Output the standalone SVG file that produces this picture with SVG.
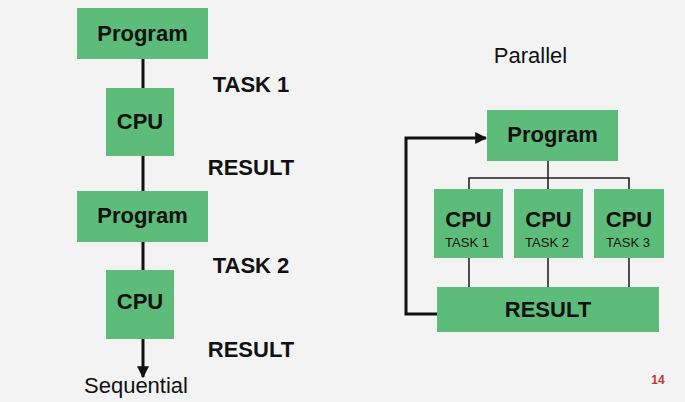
<svg xmlns="http://www.w3.org/2000/svg" width="685" height="402" viewBox="0 0 685 402">
<style>
.box{fill:#5dbc7a}
.b{font-family:"Liberation Sans",Arial,sans-serif;font-weight:bold;font-size:22px;fill:#111;text-anchor:middle}
.r{font-family:"Liberation Sans",Arial,sans-serif;font-size:22px;fill:#111;text-anchor:middle}
.s{font-family:"Liberation Sans",Arial,sans-serif;font-size:13px;fill:#111;text-anchor:middle}
.thick{stroke:#111;stroke-width:3;fill:none}
.thin{stroke:#222;stroke-width:1.6;fill:none}
</style>
<defs>
<marker id="ah" viewBox="0 0 10 10" refX="9" refY="5" markerWidth="4" markerHeight="4" orient="auto" markerUnits="strokeWidth">
<path d="M0,0 L10,5 L0,10 z" fill="#111"/>
</marker>
</defs>
<rect width="685" height="402" fill="#f3f3f3"/>
<g id="connectors">
<line class="thick" x1="143" y1="59" x2="143" y2="88"/>
<line class="thick" x1="143" y1="156" x2="143" y2="191"/>
<line class="thick" x1="143" y1="242" x2="143" y2="270"/>
<line class="thick" x1="143" y1="339" x2="143" y2="377" marker-end="url(#ah)"/>
<line class="thin" x1="548" y1="161" x2="548" y2="178"/>
<polyline class="thin" points="469,189 469,178 629,178 629,189"/>
<line class="thin" x1="548" y1="178" x2="548" y2="189"/>
<line class="thin" x1="469" y1="258" x2="469" y2="287"/>
<line class="thin" x1="548" y1="258" x2="548" y2="287"/>
<line class="thin" x1="629" y1="258" x2="629" y2="287"/>
<polyline class="thick" points="437,314 406,314 406,138 486,138" marker-end="url(#ah)"/>
</g>
<g id="seq-program1"><rect class="box" x="77" y="8" width="131" height="51"/><text class="b" x="142.5" y="41">Program</text></g>
<g id="seq-cpu1"><rect class="box" x="106" y="88" width="68" height="68"/><text class="b" x="140" y="129">CPU</text></g>
<g id="seq-program2"><rect class="box" x="77" y="191" width="131" height="51"/><text class="b" x="142.5" y="223">Program</text></g>
<g id="seq-cpu2"><rect class="box" x="106" y="270" width="68" height="69"/><text class="b" x="140" y="309">CPU</text></g>
<g id="seq-labels">
<text class="b" x="251" y="92">TASK 1</text>
<text class="b" x="251" y="175">RESULT</text>
<text class="b" x="251" y="273">TASK 2</text>
<text class="b" x="251" y="357">RESULT</text>
<text class="r" x="136" y="393">Sequential</text>
</g>
<g id="par-title"><text class="r" x="530.5" y="63">Parallel</text></g>
<g id="par-program"><rect class="box" x="487" y="110" width="131" height="51"/><text class="b" x="552.5" y="142">Program</text></g>
<g id="par-cpu1"><rect class="box" x="434" y="189" width="69" height="69"/><text class="b" x="468.5" y="227">CPU</text><text class="s" x="467" y="247">TASK 1</text></g>
<g id="par-cpu2"><rect class="box" x="514" y="189" width="69" height="69"/><text class="b" x="548.5" y="227">CPU</text><text class="s" x="547" y="247">TASK 2</text></g>
<g id="par-cpu3"><rect class="box" x="594" y="189" width="70" height="69"/><text class="b" x="629" y="227">CPU</text><text class="s" x="628" y="247">TASK 3</text></g>
<g id="par-result"><rect class="box" x="437" y="287" width="222" height="45"/><text class="b" x="548" y="317">RESULT</text></g>
<g id="page"><text x="658" y="384" style="font-family:'Liberation Sans',Arial,sans-serif;font-weight:bold;font-size:12px;fill:#c0392b;text-anchor:middle">14</text></g>
</svg>
